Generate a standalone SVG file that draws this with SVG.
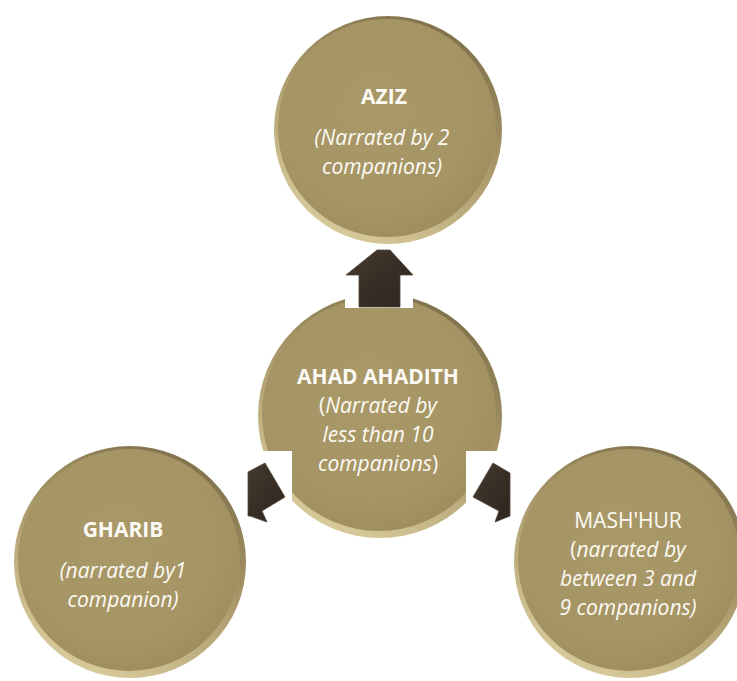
<svg xmlns="http://www.w3.org/2000/svg" width="737" height="681" viewBox="0 0 737 681">
  <defs>
    <linearGradient id="rim" x1="0.75" y1="0" x2="0.25" y2="1">
      <stop offset="0" stop-color="#7d6f4b"/>
      <stop offset="0.4" stop-color="#a39264"/>
      <stop offset="1" stop-color="#dccf9f"/>
    </linearGradient>
    <radialGradient id="face" cx="0.45" cy="0.42" r="0.62">
      <stop offset="0" stop-color="#aa9968"/>
      <stop offset="0.75" stop-color="#a59464"/>
      <stop offset="1" stop-color="#9d8c5c"/>
    </radialGradient>
    <linearGradient id="arrowFill" x1="0" y1="0" x2="1" y2="1">
      <stop offset="0" stop-color="#463b30"/>
      <stop offset="0.5" stop-color="#372e25"/>
      <stop offset="1" stop-color="#2f271f"/>
    </linearGradient>
  </defs>
  <style>
    .rim { fill: url(#rim); }
    .face { fill: url(#face); }
    .arrow { fill: url(#arrowFill); stroke: #54483a; stroke-width: 0.8; stroke-linejoin: miter; }
    .mask { fill: #ffffff; }
    text { font-family: "Open Sans", "Liberation Sans", Arial, sans-serif; fill: #fcfaf4; text-anchor: middle; font-size: 21px; }
    .b { font-weight: bold; }
    .i { font-style: italic; }
  </style>
  <rect width="737" height="681" fill="#ffffff"/>

  <g id="node-ahad">
    <circle class="rim" cx="380" cy="416" r="122"/>
    <circle class="face" cx="379" cy="414" r="117"/>
  </g>

  <g id="connectors">
    <rect class="mask" x="345" y="250" width="68" height="58"/>
    <rect class="mask" x="240" y="451" width="52" height="80"/>
    <rect class="mask" x="466" y="451" width="46" height="80"/>
    <polygon class="arrow" points="359,307 359,275 346,275 377,250 390,250 413,275 400,275 400,307"/>
    <polygon class="arrow" points="248,472 265,463 285,497 262,511 267,522 250,516 248,516"/>
    <polygon class="arrow" points="493,463 510,473 510,516 495,522 499,511 473,497"/>
  </g>

  <g id="text-ahad">
    <text x="378" y="384" class="b">AHAD AHADITH</text>
    <text x="378" y="413">(<tspan class="i">Narrated by</tspan></text>
    <text x="378" y="442" class="i">less than 10</text>
    <text x="378" y="471"><tspan class="i">companions</tspan>)</text>
  </g>

  <g id="node-aziz">
    <circle class="rim" cx="388" cy="130" r="114"/>
    <circle class="face" cx="387" cy="128" r="109"/>
    <text x="384" y="104" class="b">AZIZ</text>
    <text x="382" y="145" class="i">(Narrated by 2</text>
    <text x="382" y="174" class="i">companions)</text>
  </g>

  <g id="node-gharib">
    <circle class="rim" cx="130" cy="562" r="116"/>
    <circle class="face" cx="129" cy="560" r="111"/>
    <text x="123" y="537" class="b">GHARIB</text>
    <text x="123" y="578" class="i">(narrated by1</text>
    <text x="123" y="607" class="i">companion)</text>
  </g>

  <g id="node-mashhur">
    <circle class="rim" cx="630" cy="562" r="116"/>
    <circle class="face" cx="629" cy="560" r="111"/>
    <text x="628" y="528">MASH'HUR</text>
    <text x="628" y="557">(<tspan class="i">narrated by</tspan></text>
    <text x="628" y="586" class="i">between 3 and</text>
    <text x="628" y="615" class="i">9 companions)</text>
  </g>
</svg>
